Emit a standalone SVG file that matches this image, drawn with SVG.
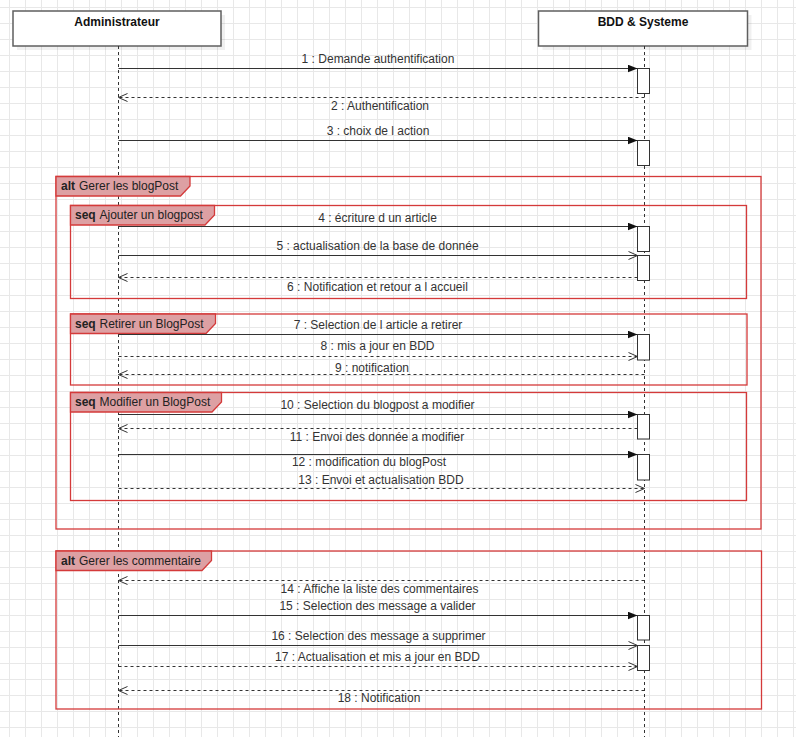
<svg xmlns="http://www.w3.org/2000/svg" width="796" height="737" viewBox="0 0 796 737">
<style>
.lbl{font-family:"Liberation Sans",Arial,sans-serif;font-size:12px;fill:#333;text-anchor:middle}
.ttl{font-family:"Liberation Sans",Arial,sans-serif;font-size:12px;font-weight:bold;fill:#111;text-anchor:middle}
.ftxt{font-family:"Liberation Sans",Arial,sans-serif;font-size:12px;fill:#222}
.frame{fill:none;stroke:#d43a3a;stroke-width:1.3}
.ftab{fill:#dda0a3;stroke:#d43a3a;stroke-width:1.3}
.life{stroke:#333;stroke-width:1;stroke-dasharray:3 3;fill:none}
.act{fill:#fff;stroke:#333;stroke-width:1}
.msg{stroke:#333;stroke-width:1;fill:none}
.ret{stroke:#333;stroke-width:1;fill:none;stroke-dasharray:3 3}
.sync{marker-end:url(#filled)}
.open{marker-end:url(#openA)}
</style>
<defs>
<pattern id="grid" x="9" y="7" width="16" height="16" patternUnits="userSpaceOnUse">
<path d="M0.5 0V16M0 0.5H16" stroke="#e8e8e8" stroke-width="1" fill="none"/>
</pattern>
<marker id="filled" viewBox="0 0 10 8" refX="10" refY="4" markerWidth="10" markerHeight="8" markerUnits="userSpaceOnUse" orient="auto">
<path d="M0 0L10 4L0 8z" fill="#111"/>
</marker>
<marker id="openA" viewBox="0 0 11 10" refX="10" refY="5" markerWidth="11" markerHeight="10" markerUnits="userSpaceOnUse" orient="auto">
<path d="M1 1L10 5L1 9" fill="none" stroke="#333" stroke-width="1"/>
</marker>
</defs>
<rect width="796" height="737" fill="#fff"/>
<rect width="796" height="737" fill="url(#grid)"/>

<g id="Administrateur">
<rect x="17" y="15" width="208" height="35" fill="#000" opacity="0.06"/>
<rect x="13" y="11" width="208" height="35" fill="#fff" stroke="#5f5f5f" stroke-width="1.5"/>
<text class="ttl" x="117" y="26">Administrateur</text>
<line class="life" x1="118.5" y1="46" x2="118.5" y2="737"/>
</g>

<g id="BDD-Systeme">
<rect x="542.5" y="15" width="209" height="35" fill="#000" opacity="0.06"/>
<rect x="538.5" y="11" width="209" height="35" fill="#fff" stroke="#5f5f5f" stroke-width="1.5"/>
<text class="ttl" x="643" y="26">BDD &amp; Systeme</text>
<line class="life" x1="644.5" y1="46" x2="644.5" y2="737"/>
<g id="activations">
<rect class="act" x="637.5" y="68.5" width="12" height="25"/>
<rect class="act" x="637.5" y="140.5" width="12" height="25"/>
<rect class="act" x="637.5" y="226.5" width="12" height="25"/>
<rect class="act" x="637.5" y="255.5" width="12" height="25"/>
<rect class="act" x="637.5" y="334.5" width="12" height="25.5"/>
<rect class="act" x="637.5" y="414.5" width="12" height="24.5"/>
<rect class="act" x="637.5" y="454.5" width="12" height="25.5"/>
<rect class="act" x="637.5" y="615.5" width="12" height="24.5"/>
<rect class="act" x="637.5" y="645.5" width="12" height="25"/>
</g>
</g>

<g id="frames">
<g id="alt-blogpost">
<rect class="frame" x="56" y="176.5" width="705" height="352.5"/>
<path class="ftab" d="M56 176.5H190V186L180.5 196H56z"/>
<text class="ftxt" x="61" y="190"><tspan font-weight="bold">alt</tspan><tspan x="79">Gerer les blogPost</tspan></text>
</g>
<g id="seq-ajouter">
<rect class="frame" x="70.5" y="205.5" width="676" height="93"/>
<path class="ftab" d="M70.5 205.5H214.5V215L205 225H70.5z"/>
<text class="ftxt" x="75" y="219"><tspan font-weight="bold">seq</tspan><tspan x="99.5">Ajouter un blogpost</tspan></text>
</g>
<g id="seq-retirer">
<rect class="frame" x="70.5" y="314" width="676.5" height="71"/>
<path class="ftab" d="M70.5 314H215.5V323.5L206 333.5H70.5z"/>
<text class="ftxt" x="75" y="327.5"><tspan font-weight="bold">seq</tspan><tspan x="99.5">Retirer un BlogPost</tspan></text>
</g>
<g id="seq-modifier">
<rect class="frame" x="70.5" y="392.5" width="676" height="108"/>
<path class="ftab" d="M70.5 392.5H221.5V402L212 412H70.5z"/>
<text class="ftxt" x="75" y="406"><tspan font-weight="bold">seq</tspan><tspan x="99.5">Modifier un BlogPost</tspan></text>
</g>
<g id="alt-commentaire">
<rect class="frame" x="56" y="551" width="705.5" height="158"/>
<path class="ftab" d="M56 551H211.5V560.5L202 570.5H56z"/>
<text class="ftxt" x="61" y="564.5"><tspan font-weight="bold">alt</tspan><tspan x="79">Gerer les commentaire</tspan></text>
</g>
</g>

<g id="connectors">
<line class="msg sync" x1="118.5" y1="68.5" x2="637.5" y2="68.5"/>
<text class="lbl" x="378" y="63">1 : Demande authentification</text>
<line class="ret open" x1="644.5" y1="97.5" x2="118.5" y2="97.5"/>
<text class="lbl" x="380" y="110">2 : Authentification</text>
<line class="msg sync" x1="118.5" y1="140.5" x2="637.5" y2="140.5"/>
<text class="lbl" x="378" y="135">3 : choix de l action</text>

<line class="msg sync" x1="118.5" y1="226.5" x2="637.5" y2="226.5"/>
<text class="lbl" x="377.5" y="221.5">4 : écriture d un article</text>
<line class="msg open" x1="118.5" y1="255.5" x2="637.5" y2="255.5"/>
<text class="lbl" x="377.5" y="250">5 : actualisation de la base de donnée</text>
<line class="ret open" x1="637.5" y1="277.5" x2="118.5" y2="277.5"/>
<text class="lbl" x="377.5" y="290.5">6 : Notification et retour a l accueil</text>

<line class="msg sync" x1="118.5" y1="334.5" x2="637.5" y2="334.5"/>
<text class="lbl" x="378" y="329">7 : Selection de l article a retirer</text>
<line class="ret open" x1="118.5" y1="356.5" x2="637.5" y2="356.5"/>
<text class="lbl" x="377.5" y="350">8 : mis a jour en BDD</text>
<line class="ret open" x1="644.5" y1="374.5" x2="118.5" y2="374.5"/>
<text class="lbl" x="372" y="371.5">9 : notification</text>

<line class="msg sync" x1="118.5" y1="414.5" x2="637.5" y2="414.5"/>
<text class="lbl" x="377.5" y="409">10 : Selection du blogpost a modifier</text>
<line class="ret open" x1="637.5" y1="428.5" x2="118.5" y2="428.5"/>
<text class="lbl" x="377" y="440.5">11 : Envoi des donnée a modifier</text>
<line class="msg sync" x1="118.5" y1="454.5" x2="637.5" y2="454.5"/>
<text class="lbl" x="369" y="466">12 : modification du blogPost</text>
<line class="ret open" x1="118.5" y1="488.5" x2="644.5" y2="488.5"/>
<text class="lbl" x="381" y="484">13 : Envoi et actualisation BDD</text>

<line class="ret open" x1="644.5" y1="580.5" x2="118.5" y2="580.5"/>
<text class="lbl" x="379.5" y="593">14 : Affiche la liste des commentaires</text>
<line class="msg sync" x1="118.5" y1="615.5" x2="637.5" y2="615.5"/>
<text class="lbl" x="377.5" y="609.5">15 : Selection des message a valider</text>
<line class="msg open" x1="118.5" y1="645.5" x2="637.5" y2="645.5"/>
<text class="lbl" x="378.5" y="639.5">16 : Selection des message a supprimer</text>
<line class="ret open" x1="118.5" y1="666.5" x2="637.5" y2="666.5"/>
<text class="lbl" x="377.5" y="660.5">17 : Actualisation et mis a jour en BDD</text>
<line class="ret open" x1="644.5" y1="690.5" x2="118.5" y2="690.5"/>
<text class="lbl" x="379" y="702">18 : Notification</text>
</g>
</svg>
